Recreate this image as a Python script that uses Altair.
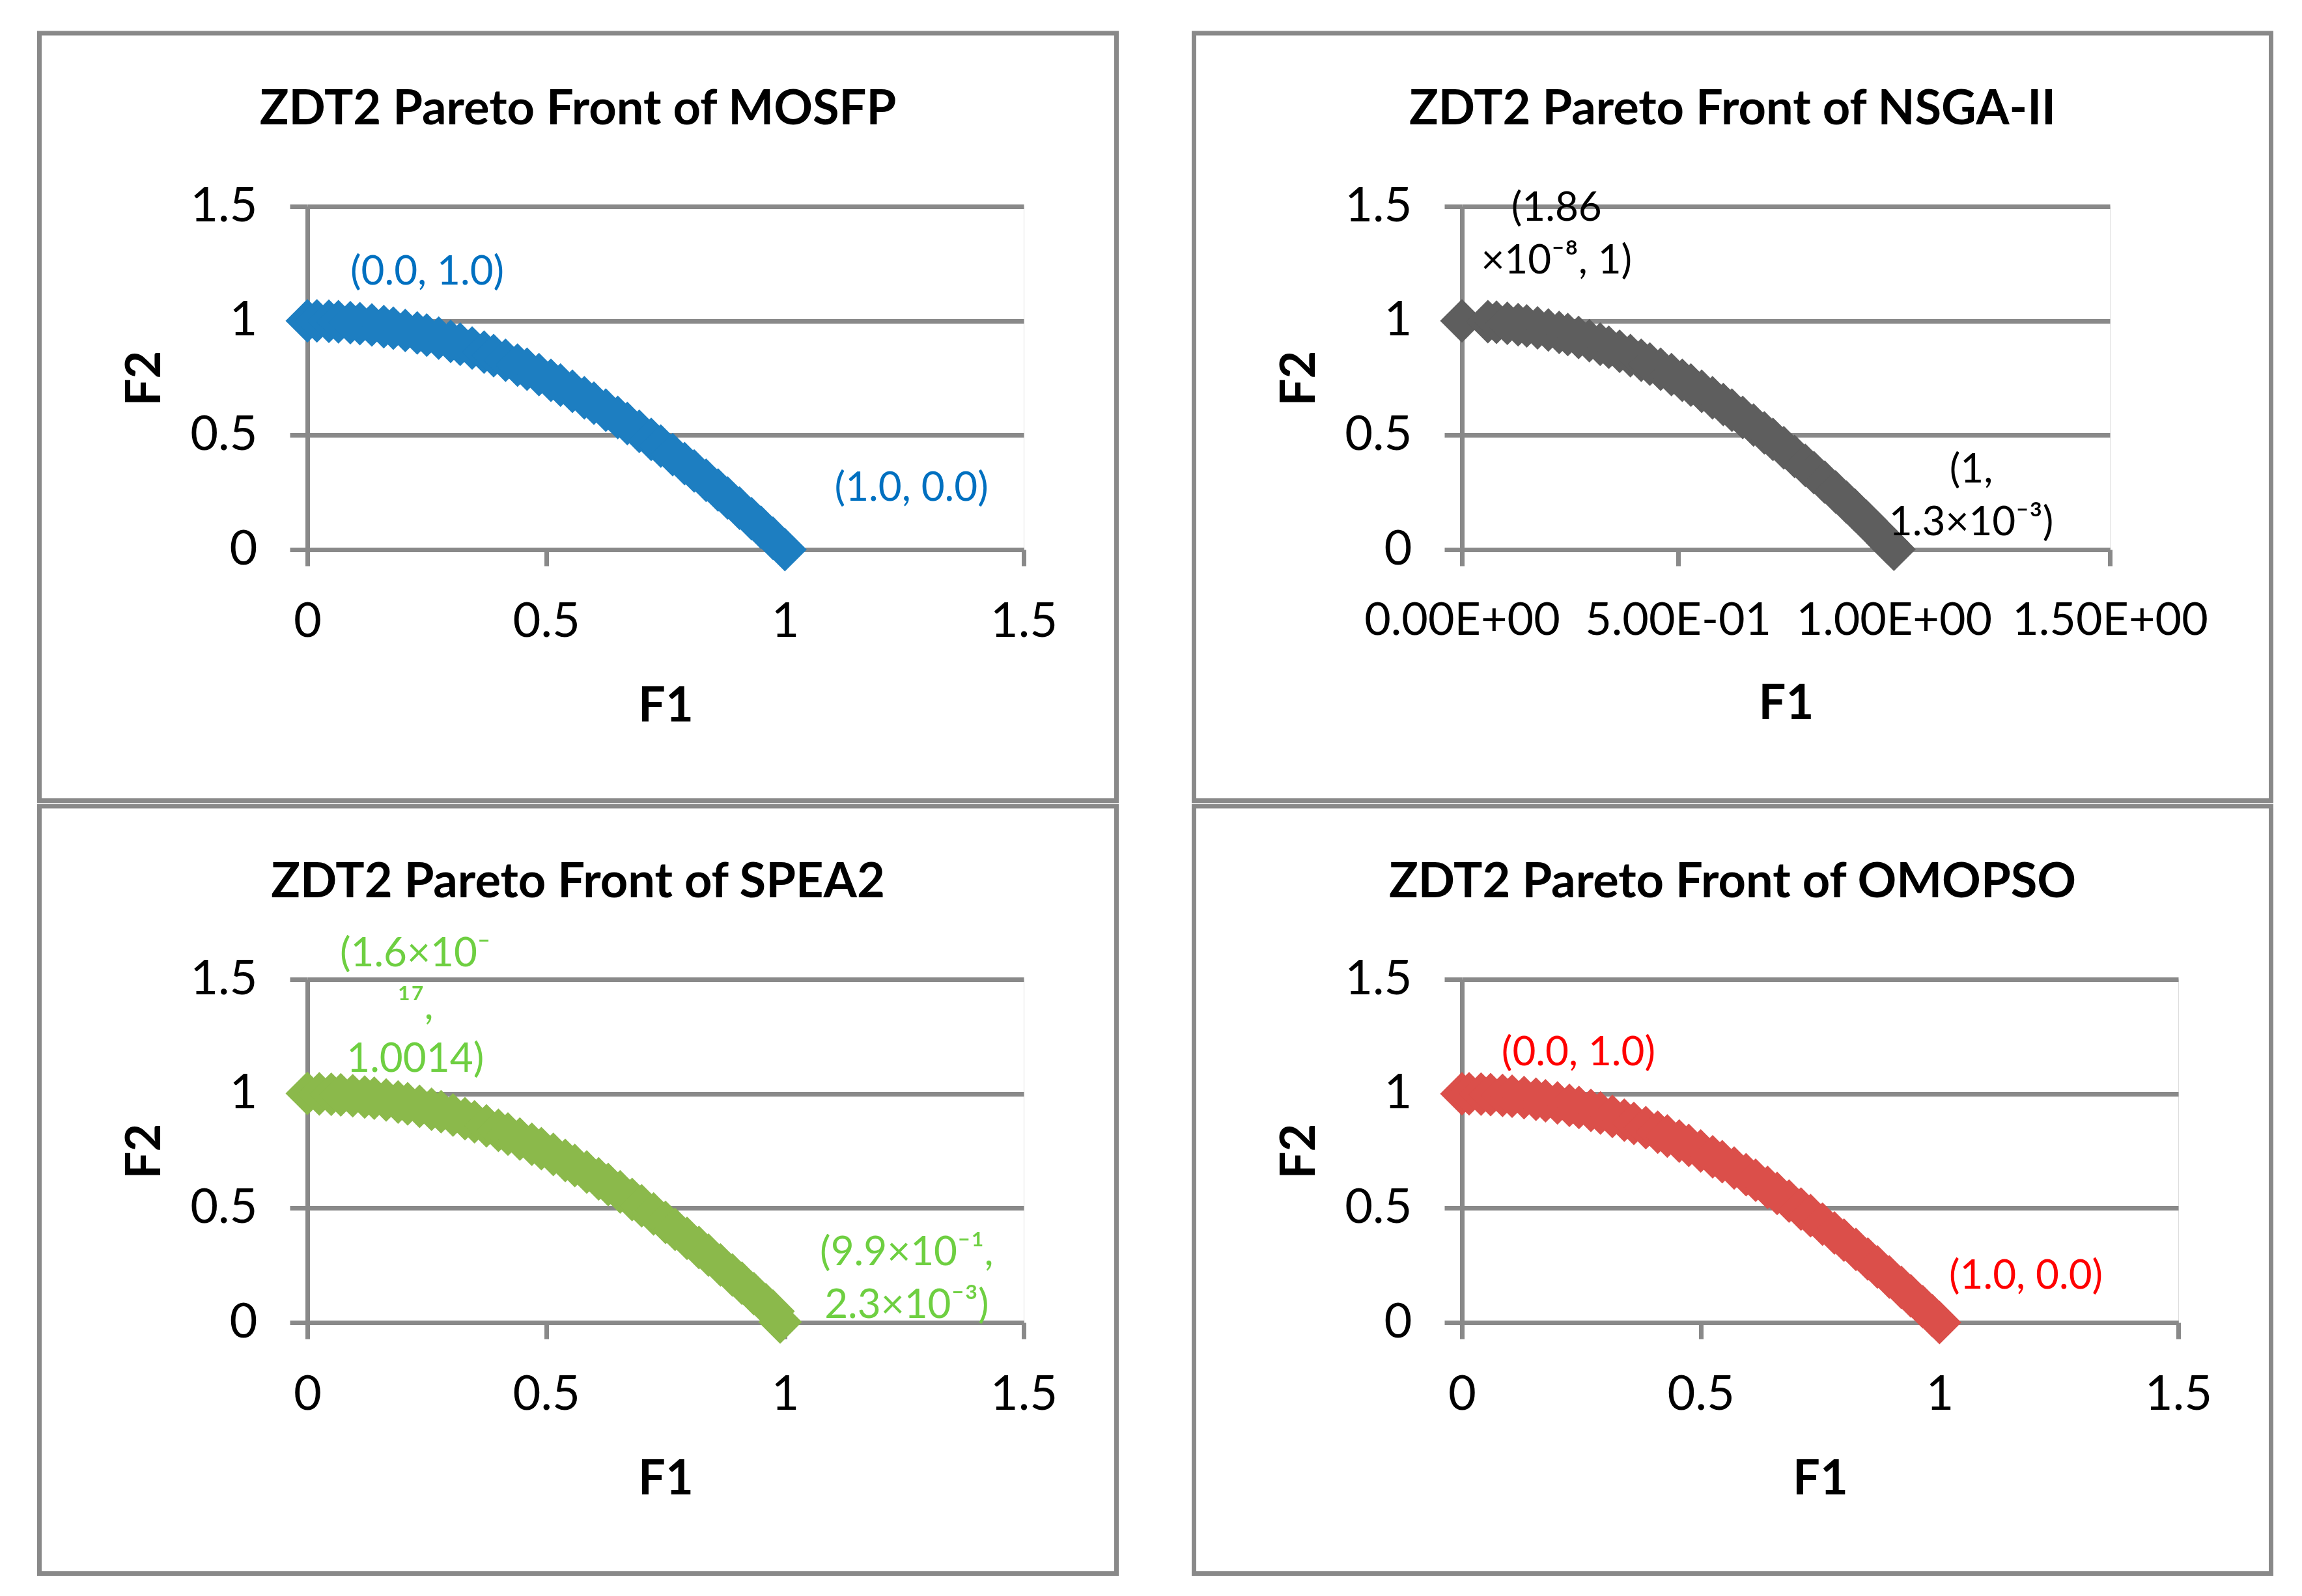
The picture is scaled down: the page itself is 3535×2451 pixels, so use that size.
import altair as alt
import pandas as pd

# ---------------- data ----------------
panel_titles = [
    "ZDT2 Pareto Front of MOSFP",
    "ZDT2 Pareto Front of NSGA-II",
    "ZDT2 Pareto Front of SPEA2",
    "ZDT2 Pareto Front of OMOPSO",
]

mosfp_f1 = [0.000, 0.020, 0.045, 0.065, 0.090, 0.110, 0.135, 0.160, 0.180, 0.205, 0.230,
            0.250, 0.275, 0.300, 0.320, 0.345, 0.370, 0.390, 0.415, 0.440, 0.460, 0.485,
            0.510, 0.530, 0.555, 0.580, 0.600, 0.625, 0.650, 0.670, 0.695, 0.720, 0.740,
            0.765, 0.790, 0.810, 0.835, 0.860, 0.880, 0.905, 0.930, 0.950, 0.975, 1.000]
mosfp_f2 = [1.0000, 0.9996, 0.9980, 0.9958, 0.9919, 0.9879, 0.9818, 0.9744, 0.9676, 0.9580, 0.9471,
            0.9375, 0.9244, 0.9100, 0.8976, 0.8810, 0.8631, 0.8479, 0.8278, 0.8064, 0.7884, 0.7648,
            0.7399, 0.7191, 0.6920, 0.6636, 0.6400, 0.6094, 0.5775, 0.5511, 0.5170, 0.4816, 0.4524,
            0.4148, 0.3759, 0.3439, 0.3028, 0.2604, 0.2256, 0.1810, 0.1351, 0.0975, 0.0494, 0.0000]

nsga_f1 = [0.0, 0.06, 0.08, 0.105, 0.13, 0.15, 0.175, 0.20, 0.225, 0.245, 0.27, 0.295, 0.32, 0.34,
           0.365, 0.39, 0.415, 0.435, 0.46, 0.485, 0.51, 0.53, 0.555, 0.58, 0.605, 0.625, 0.65,
           0.675, 0.70, 0.72, 0.745, 0.77, 0.795, 0.815, 0.84, 0.865, 0.89, 0.91, 0.935, 0.96,
           0.985, 1.0]
nsga_f2 = [1.0, 0.9964, 0.9936, 0.9890, 0.9831, 0.9775, 0.9694, 0.9600, 0.9494, 0.9400, 0.9271,
           0.9130, 0.8976, 0.8844, 0.8668, 0.8479, 0.8278, 0.8108, 0.7884, 0.7648, 0.7399, 0.7191,
           0.6920, 0.6636, 0.6340, 0.6094, 0.5775, 0.5444, 0.5100, 0.4816, 0.4450, 0.4071, 0.3680,
           0.3358, 0.2944, 0.2518, 0.2079, 0.1719, 0.1258, 0.0784, 0.0298, 0.0013]

spea_f1 = [0.0, 0.025, 0.05, 0.07, 0.095, 0.12, 0.14, 0.165, 0.19, 0.21, 0.235, 0.26, 0.28, 0.305,
           0.33, 0.35, 0.375, 0.40, 0.42, 0.445, 0.47, 0.49, 0.515, 0.54, 0.56, 0.585, 0.61, 0.63,
           0.655, 0.68, 0.70, 0.725, 0.75, 0.77, 0.795, 0.82, 0.84, 0.865, 0.89, 0.91, 0.935, 0.96,
           0.975, 0.99]
spea_f2 = [1.0014, 0.9994, 0.9975, 0.9951, 0.9910, 0.9856, 0.9804, 0.9728, 0.9639, 0.9559, 0.9448,
           0.9324, 0.9216, 0.9070, 0.8911, 0.8775, 0.8594, 0.8400, 0.8236, 0.8020, 0.7791, 0.7599,
           0.7348, 0.7084, 0.6864, 0.6578, 0.6279, 0.6031, 0.5710, 0.5376, 0.5100, 0.4744, 0.4375,
           0.4071, 0.3680, 0.3276, 0.2944, 0.2518, 0.2079, 0.1719, 0.1258, 0.0784, 0.0494, 0.0023]

omopso_f1 = [0.0, 0.015, 0.04, 0.06, 0.085, 0.105, 0.13, 0.155, 0.175, 0.20, 0.225, 0.245, 0.27,
             0.29, 0.315, 0.34, 0.36, 0.385, 0.41, 0.43, 0.455, 0.475, 0.50, 0.525, 0.545, 0.57,
             0.595, 0.615, 0.64, 0.66, 0.685, 0.71, 0.73, 0.755, 0.78, 0.80, 0.825, 0.85, 0.87,
             0.895, 0.92, 0.94, 0.965, 0.985, 1.0]
omopso_f2 = [1.0, 0.9998, 0.9984, 0.9964, 0.9928, 0.9890, 0.9831, 0.9760, 0.9694, 0.9600, 0.9494,
             0.9400, 0.9271, 0.9159, 0.9008, 0.8844, 0.8704, 0.8518, 0.8319, 0.8151, 0.7930, 0.7744,
             0.7500, 0.7244, 0.7030, 0.6751, 0.6460, 0.6218, 0.5904, 0.5644, 0.5308, 0.4959, 0.4671,
             0.4300, 0.3916, 0.3600, 0.3194, 0.2775, 0.2431, 0.1990, 0.1536, 0.1164, 0.0688, 0.0298,
             0.0]

# extreme-point annotations: text and the (F1, F2) spot where each sits
mosfp_labels = ["(0.0, 1.0)", "(1.0, 0.0)"]
mosfp_label_f1 = [0.251, 1.265]
mosfp_label_f2 = [1.158, 0.213]

nsga_labels = ["(1.86\n×10⁻⁸, 1)", "(1,\n1.3×10⁻³)"]
nsga_label_f1 = [0.219, 1.179]
nsga_label_f2 = [1.436, 0.292]

spea_labels = ["(1.6×10⁻\n¹⁷,\n1.0014)", "(9.9×10⁻¹,\n2.3×10⁻³)"]
spea_label_f1 = [0.226, 1.255]
spea_label_f2 = [1.558, 0.250]

omopso_labels = ["(0.0, 1.0)", "(1.0, 0.0)"]
omopso_label_f1 = [0.244, 1.181]
omopso_label_f2 = [1.123, 0.147]

tick_values = [0, 0.5, 1, 1.5]
nsga_x_tick_labels = ["0.00E+00", "5.00E-01", "1.00E+00", "1.50E+00"]

# ---------------- styling ----------------
GRAY = "#898989"
FONT = "Lato"
TICK_FS = 74
TITLE_FS = 74
LABEL_FS = 62
PLOT_H = 527


def panel(title, f1, f2, lab_txt, lab_f1, lab_f2, marker_color, label_color,
          width, x_label_expr=None, x_label_fs=TICK_FS):
    pts = pd.DataFrame({"F1": f1, "F2": f2})
    labs = pd.DataFrame({"F1": lab_f1, "F2": lab_f2, "txt": lab_txt})
    frame_df = pd.DataFrame({"k": [0]})

    x_axis_kw = dict(
        values=tick_values, grid=False, domain=True, domainColor=GRAY, domainWidth=7,
        ticks=True, tickColor=GRAY, tickWidth=7, tickSize=25,
        labelFont=FONT, labelFontSize=x_label_fs, labelColor="black", labelPadding=50,
        labelFlush=False, labelOverlap=False, labelLimit=0,
        titleFont=FONT, titleFontSize=TITLE_FS, titleFontWeight="bold", titleColor="black",
        titlePadding=57,
    )
    if x_label_expr is not None:
        x_axis_kw["labelExpr"] = x_label_expr
    else:
        x_axis_kw["format"] = "~g"

    x = alt.X("F1:Q", title="F1",
              scale=alt.Scale(domain=[0, 1.5], nice=False, zero=False),
              axis=alt.Axis(**x_axis_kw))
    y = alt.Y("F2:Q", title="F2",
              scale=alt.Scale(domain=[0, 1.5], nice=False, zero=False),
              axis=alt.Axis(values=tick_values, format="~g", grid=True, gridColor=GRAY,
                            gridWidth=7, domain=True, domainColor=GRAY, domainWidth=7,
                            ticks=True, tickColor=GRAY, tickWidth=7, tickSize=27,
                            labelFont=FONT, labelFontSize=TICK_FS, labelColor="black",
                            labelPadding=50, titleFont=FONT, titleFontSize=TITLE_FS,
                            titleFontWeight="bold", titleColor="black", titlePadding=30))

    points = alt.Chart(pts).mark_point(
        shape="diamond", filled=True, size=4500, opacity=1, color=marker_color,
        strokeWidth=0,
    ).encode(x=x, y=y)

    text = alt.Chart(labs).mark_text(
        font=FONT, fontSize=LABEL_FS, color=label_color, align="center",
        baseline="alphabetic", lineBreak="\n", lineHeight=81,
    ).encode(x=x, y=y, text="txt:N")

    frame = alt.Chart(frame_df).mark_rect(
        filled=False, stroke=GRAY, strokeWidth=7,
    ).encode(x=alt.value(-411.5), x2=alt.value(1242.5),
             y=alt.value(-266), y2=alt.value(912.5))

    ctr = (-415 + 1246) / 2.0
    return alt.layer(frame, points, text).properties(
        width=width, height=PLOT_H,
        title=alt.TitleParams(title, font=FONT, fontSize=TITLE_FS, fontWeight="bold",
                              color="black", anchor="middle", dx=ctr - width / 2.0,
                              offset=60, dy=277, baseline="alphabetic"),
    )


nsga_expr = "[" + ",".join("'%s'" % s for s in nsga_x_tick_labels) + "][round(datum.value*2)]"

tl = panel(panel_titles[0], mosfp_f1, mosfp_f2, mosfp_labels, mosfp_label_f1, mosfp_label_f2,
           "#1D7EC1", "#0070C0", 1100)
tr = panel(panel_titles[1], nsga_f1, nsga_f2, nsga_labels, nsga_label_f1, nsga_label_f2,
           "#5E5E5E", "#000000", 995, x_label_expr=nsga_expr, x_label_fs=70)
bl = panel(panel_titles[2], spea_f1, spea_f2, spea_labels, spea_label_f1, spea_label_f2,
           "#8BB94B", "#6ECF41", 1100)
br = panel(panel_titles[3], omopso_f1, omopso_f2, omopso_labels, omopso_label_f1,
           omopso_label_f2, "#DB4F4A", "#FF0000", 1100)

chart = alt.concat(
    tl, tr, bl, br, columns=2, spacing={"row": 660, "column": 673}, bounds="flush",
).properties(
    padding={"left": 48, "top": 39, "right": 20, "bottom": 10},
).configure_view(stroke=None).configure(background="white")

chart.save("out.html", embed_options={"renderer": "svg", "actions": False})
